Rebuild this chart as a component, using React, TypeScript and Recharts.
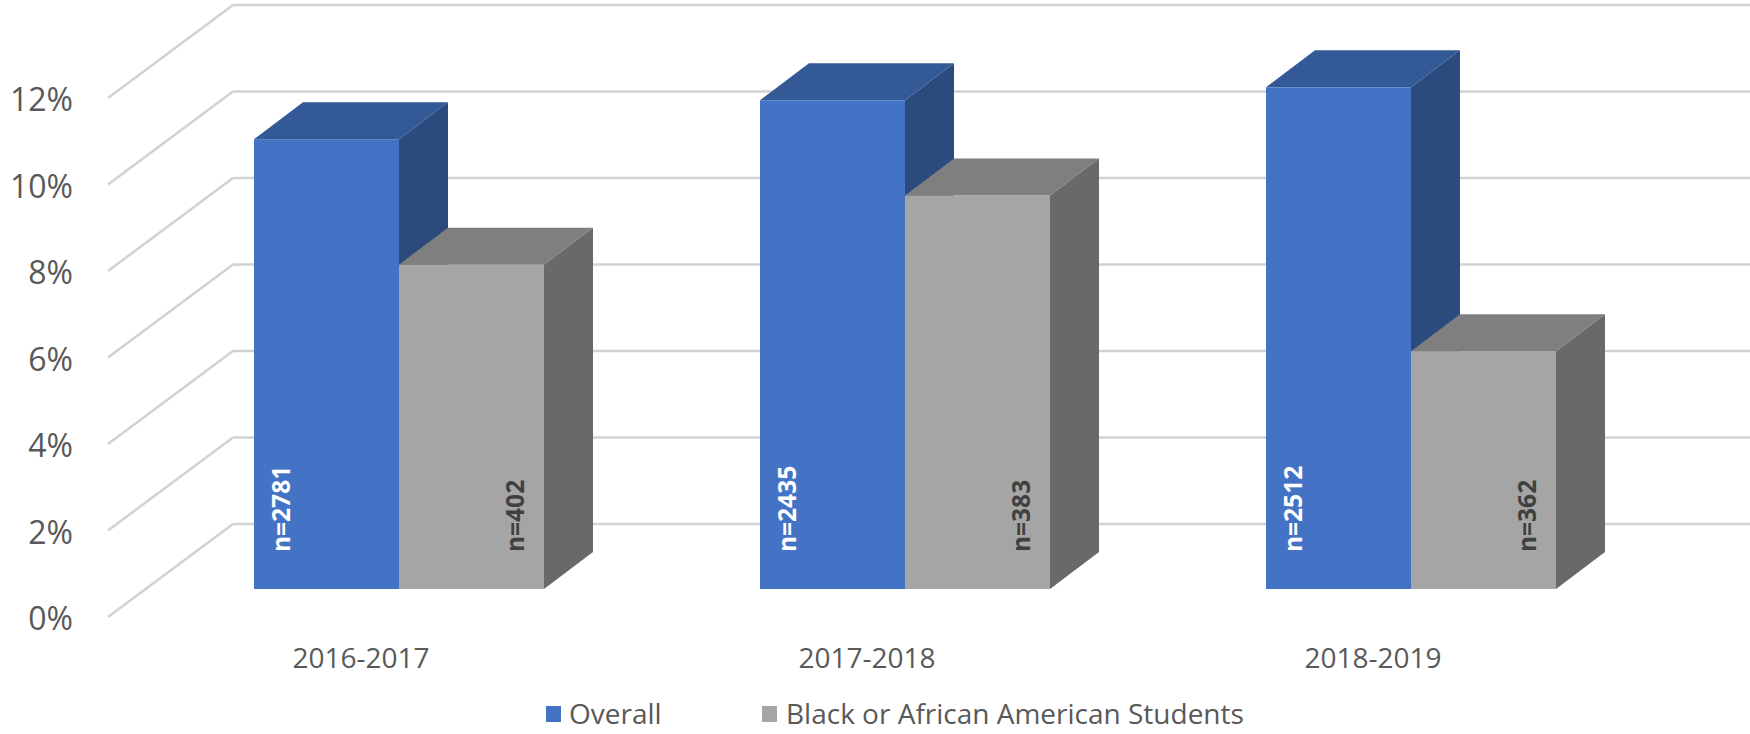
import React from 'react';
import { BarChart, Bar, XAxis, YAxis, CartesianGrid, LabelList } from 'recharts';

const categories = ['2016-2017', '2017-2018', '2018-2019'];
const overallPct = [10.4, 11.3, 11.6];
const blackPct = [7.5, 9.1, 5.5];
const overallN = [2781, 2435, 2512];
const blackN = [402, 383, 362];
const yTicks = [0, 2, 4, 6, 8, 10, 12];
const seriesNames = ['Overall', 'Black or African American Students'];

const data = categories.map((c, i) => ({
  cat: c,
  overall: overallPct[i],
  black: blackPct[i],
  nO: overallN[i],
  nB: blackN[i],
}));

const W = 1750;
const H = 734;
const FONT = '"Open Sans", "Noto Sans", sans-serif';
const DEPTH_DX = 49;
const DEPTH_DY = 37;
const FRONT_DX = -38;
const FRONT_DY = 28;
const BACK_DX = 87;
const BACK_DY = -65;

const BLUE = { front: '#4472C4', top: '#335A96', side: '#2B4A7E' };
const GRAY = { front: '#A5A5A5', top: '#7F7F7F', side: '#696969' };

const makeBox = (col: { front: string; top: string; side: string }) => (p: any) => {
  const { x, y, width: w, height: h } = p;
  if (w == null || h == null) return <g />;
  const dx = DEPTH_DX;
  const dy = DEPTH_DY;
  return (
    <g>
      <polygon
        points={`${x + w},${y} ${x + w + dx},${y - dy} ${x + w + dx},${y + h - dy} ${x + w},${y + h}`}
        fill={col.side}
      />
      <polygon
        points={`${x},${y} ${x + dx},${y - dy} ${x + w + dx},${y - dy} ${x + w},${y}`}
        fill={col.top}
      />
      <rect x={x} y={y} width={w} height={h} fill={col.front} />
    </g>
  );
};

const makeLabel = (side: 'left' | 'right', color: string) => (p: any) => {
  const { x, y, width: w, height: h, value } = p;
  const bx = side === 'left' ? x + 36 : x + w - 20;
  const by = y + h - 37;
  return (
    <text
      x={bx}
      y={by}
      transform={`rotate(-90, ${bx}, ${by})`}
      textAnchor="start"
      fill={color}
      fontFamily={FONT}
      fontWeight={700}
      fontSize={24.5}
    >
      {`n=${value}`}
    </text>
  );
};

const gridLine = (p: any) => {
  const { x1, y1, key } = p;
  const bx = x1 + BACK_DX;
  const by = y1 + BACK_DY;
  const fx = x1 + FRONT_DX;
  const fy = y1 + FRONT_DY;
  return (
    <g key={key}>
      <line x1={fx} y1={fy} x2={bx} y2={by} stroke="#D2D2D2" strokeWidth={2.5} />
      <line x1={bx} y1={by} x2={W} y2={by} stroke="#D2D2D2" strokeWidth={2.5} />
    </g>
  );
};

const YTick = (p: any) => (
  <text x={73} y={p.y + 41} textAnchor="end" fill="#595959" fontFamily={FONT} fontSize={32}>
    {`${p.payload.value}%`}
  </text>
);

const XTick = (p: any) => (
  <text x={p.x + FRONT_DX} y={668} textAnchor="middle" fill="#595959" fontFamily={FONT} fontSize={28}>
    {p.payload.value}
  </text>
);

const legendItems = [
  { name: seriesNames[0], color: BLUE.front, sq: 546, tx: 569 },
  { name: seriesNames[1], color: GRAY.front, sq: 762, tx: 786 },
];

export default function App() {
  return (
    <div style={{ position: 'absolute', left: 0, top: 0, width: W, height: H, background: '#fff' }}>
      <BarChart
        width={W}
        height={H}
        data={data}
        margin={{ top: 70, right: 86, bottom: 0, left: 0 }}
        barGap={0}
        barSize={145}
      >
        <CartesianGrid vertical={false} horizontal={gridLine} />
        <XAxis dataKey="cat" height={145} axisLine={false} tickLine={false} tick={XTick} />
        <YAxis
          width={146}
          domain={[0, 12]}
          ticks={yTicks}
          axisLine={false}
          tickLine={false}
          tick={YTick}
          interval={0}
        />
        <Bar dataKey="overall" name={seriesNames[0]} fill={BLUE.front} shape={makeBox(BLUE)} isAnimationActive={false}>
          <LabelList dataKey="nO" content={makeLabel('left', '#FFFFFF')} />
        </Bar>
        <Bar dataKey="black" name={seriesNames[1]} fill={GRAY.front} shape={makeBox(GRAY)} isAnimationActive={false}>
          <LabelList dataKey="nB" content={makeLabel('right', '#404040')} />
        </Bar>
      </BarChart>
      <svg width={W} height={H} style={{ position: 'absolute', left: 0, top: 0, pointerEvents: 'none' }}>
        {legendItems.map((it) => (
          <g key={it.name}>
            <rect x={it.sq} y={706} width={15} height={16} fill={it.color} />
            <text x={it.tx} y={724} fill="#595959" fontFamily={FONT} fontSize={28}>
              {it.name}
            </text>
          </g>
        ))}
      </svg>
    </div>
  );
}
